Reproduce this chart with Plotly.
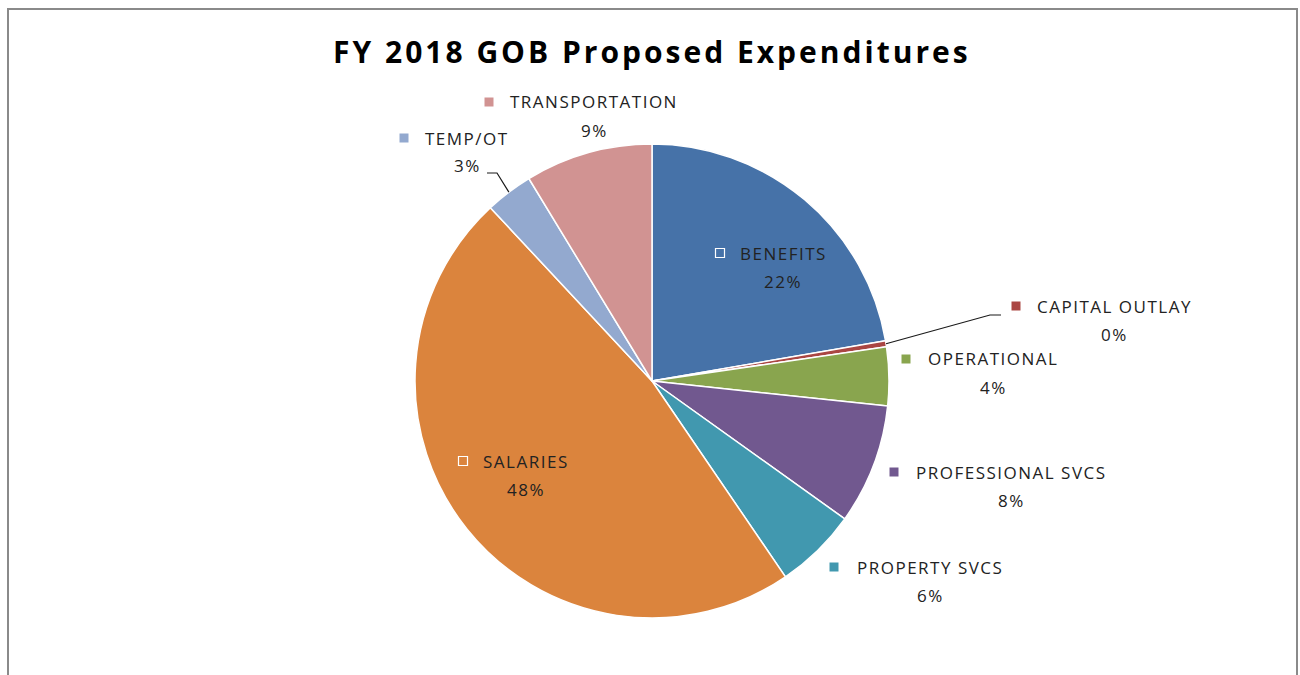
import math
import plotly.graph_objects as go

# ---- data ----
categories = ["BENEFITS", "CAPITAL OUTLAY", "OPERATIONAL", "PROFESSIONAL SVCS",
              "PROPERTY SVCS", "SALARIES", "TEMP/OT", "TRANSPORTATION"]
shares = [22.3, 0.4, 4.0, 8.2, 5.6, 47.6, 3.25, 8.7]
colors = ["#4672A8", "#AA4643", "#89A54E", "#71588F",
          "#4198AF", "#DB843D", "#93A9CF", "#D19392"]
title_text = "FY 2018 GOB Proposed Expenditures"

# ---- layout / style ----
W, H = 1300, 675
CX, CY, R = 652, 381, 237  # pie centre and radius in px

def px(x):
    return x / W

def py(y):
    return 1 - y / H

FONT = "Open Sans"
TXT = "#222222"
LBL_SIZE = 17
LBL_LS = "1.5px"

def spaced(t, ls):
    return f'<span style="letter-spacing:{ls}">{t}</span>'

# label positions (px): marker centre x, text centre x, first-line y, inside?
label_pos = {
    "BENEFITS": (720, 783, 253, True),
    "CAPITAL OUTLAY": (1016, 1114, 306, False),
    "OPERATIONAL": (906, 993, 359, False),
    "PROFESSIONAL SVCS": (894, 1011, 472, False),
    "PROPERTY SVCS": (834, 930, 567, False),
    "SALARIES": (463, 526, 461, True),
    "TEMP/OT": (404, 467, 138, False),
    "TRANSPORTATION": (489, 594, 102, False),
}
leader_end = {
    "CAPITAL OUTLAY": [(990, 315), (1001, 315)],
    "TEMP/OT": [(497, 173), (487, 173)],
}

fig = go.Figure()
fig.add_trace(go.Pie(
    labels=categories, values=shares, sort=False, direction="clockwise",
    rotation=0, textinfo="none", hoverinfo="skip",
    marker=dict(colors=colors, line=dict(color="white", width=1.5)),
    domain=dict(x=[px(CX - R), px(CX + R)], y=[py(CY + R), py(CY - R)]),
    showlegend=False,
))

shapes = []
annotations = []
total = sum(shares)
cum = 0.0
for cat, v, col in zip(categories, shares, colors):
    mid = (cum + v / 2) / total * 2 * math.pi
    cum += v
    mx, tx, ty, inside = label_pos[cat]
    pct = f"{round(v / total * 100):.0f}%"
    s = 4.5
    if inside:
        shapes.append(dict(type="rect", xref="paper", yref="paper",
                           x0=px(mx - s), x1=px(mx + s), y0=py(ty + s), y1=py(ty - s),
                           line=dict(color="white", width=1.2), fillcolor="rgba(0,0,0,0)"))
    else:
        shapes.append(dict(type="rect", xref="paper", yref="paper",
                           x0=px(mx - s), x1=px(mx + s), y0=py(ty + s), y1=py(ty - s),
                           line=dict(width=0), fillcolor=col))
    annotations.append(dict(x=px(tx), y=py(ty), xref="paper", yref="paper",
                            text=spaced(cat, LBL_LS), showarrow=False,
                            xanchor="center", yanchor="middle",
                            font=dict(family=FONT, size=LBL_SIZE, color=TXT)))
    annotations.append(dict(x=px(tx), y=py(ty + 28), xref="paper", yref="paper",
                            text=spaced(pct, LBL_LS), showarrow=False,
                            xanchor="center", yanchor="middle",
                            font=dict(family=FONT, size=LBL_SIZE, color=TXT)))
    if cat in leader_end:
        sx = CX + R * math.sin(mid)
        sy = CY - R * math.cos(mid)
        pts = [(sx, sy)] + leader_end[cat]
        path = "M " + " L ".join(f"{px(x)},{py(y)}" for x, y in pts)
        shapes.append(dict(type="path", xref="paper", yref="paper", path=path,
                           line=dict(color="#1a1a1a", width=1.2)))

# chart frame
shapes.append(dict(type="rect", xref="paper", yref="paper",
                   x0=px(8), x1=px(1297), y0=py(700), y1=py(9),
                   line=dict(color="#8a8a8a", width=2), fillcolor="rgba(0,0,0,0)"))

annotations.append(dict(x=px(652), y=py(52), xref="paper", yref="paper",
                        text="<b>" + spaced(title_text, "3px") + "</b>", showarrow=False,
                        xanchor="center", yanchor="middle",
                        font=dict(family=FONT, size=30, color="#000000")))

fig.update_layout(
    width=W, height=H, autosize=False,
    margin=dict(l=0, r=0, t=0, b=0),
    paper_bgcolor="white", plot_bgcolor="white",
    shapes=shapes, annotations=annotations,
)

fig.write_html("out.html", config={"displayModeBar": False},
               post_script="document.body.style.margin='0';document.body.style.overflow='hidden';")
